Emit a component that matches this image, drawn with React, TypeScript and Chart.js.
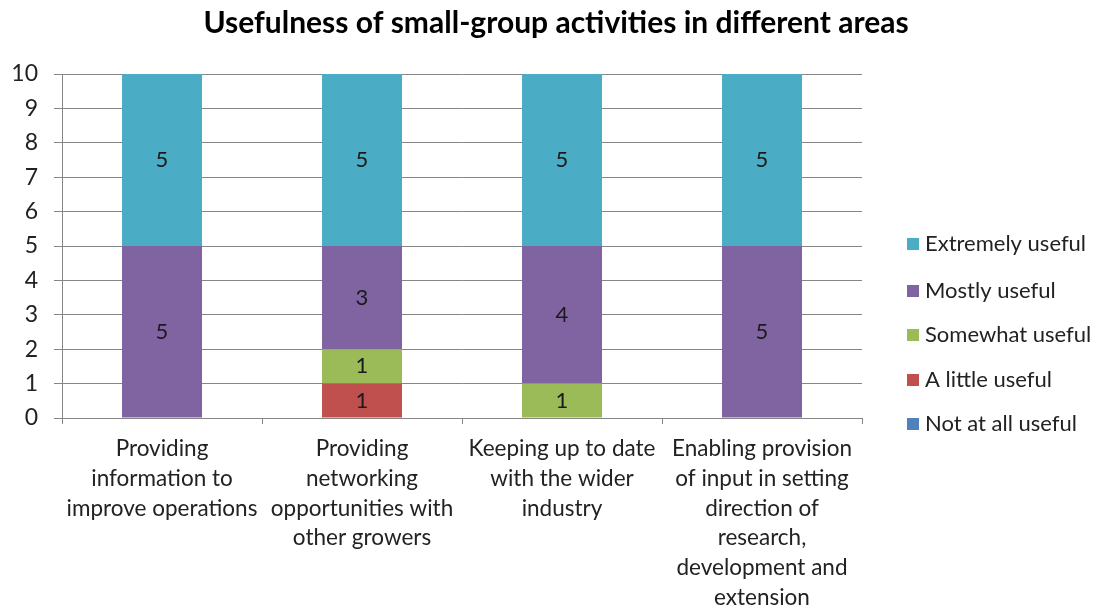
import React, { useEffect, useRef } from "react";
import { Chart, registerables } from "chart.js";
Chart.register(...registerables);

const title = "Usefulness of small-group activities in different areas";
const categories: string[][] = [
  ["Providing", "information to", "improve operations"],
  ["Providing", "networking", "opportunities with", "other growers"],
  ["Keeping up to date", "with the wider", "industry"],
  ["Enabling provision", "of input in setting", "direction of", "research,", "development and", "extension"],
];
const seriesNames = ["Not at all useful", "A little useful", "Somewhat useful", "Mostly useful", "Extremely useful"];
const notAtAll = [0, 0, 0, 0];
const aLittle = [0, 1, 0, 0];
const somewhat = [0, 1, 1, 0];
const mostly = [5, 3, 4, 5];
const extremely = [5, 5, 5, 5];
const colors = ["#4F81BD", "#C0504D", "#9BBB59", "#8064A2", "#4BACC6"];
const yTicks = [0, 1, 2, 3, 4, 5, 6, 7, 8, 9, 10];

const FONT = "Lato, 'Open Sans', sans-serif";

export default function App() {
  const ref = useRef<HTMLCanvasElement>(null);
  useEffect(() => {
    document.body.style.margin = "0";
    const values = [notAtAll, aLittle, somewhat, mostly, extremely];
    const labelsPlugin = {
      id: "customDraw",
      afterDatasetsDraw(chart: any) {
        const ctx = chart.ctx;
        ctx.save();
        // data labels
        ctx.font = `22px ${FONT}`;
        ctx.fillStyle = "#1a1a1a";
        ctx.textAlign = "center";
        ctx.textBaseline = "middle";
        chart.data.datasets.forEach((ds: any, di: number) => {
          const meta = chart.getDatasetMeta(di);
          meta.data.forEach((bar: any, i: number) => {
            const v = ds.data[i];
            if (!v) return;
            const y = (bar.y + bar.base) / 2;
            ctx.fillText(String(v), bar.x, y);
          });
        });
        // title
        ctx.font = `bold 30px ${FONT}`;
        ctx.fillStyle = "#000";
        ctx.fillText(title, 556, 23);
        // legend
        const lx = 907;
        const ys = [244, 291, 335, 380, 424];
        ctx.textAlign = "left";
        ctx.font = `22px ${FONT}`;
        for (let k = 0; k < 5; k++) {
          const si = 4 - k;
          ctx.fillStyle = colors[si];
          ctx.fillRect(lx, ys[k] - 6, 12, 12);
          ctx.fillStyle = "#222";
          ctx.fillText(seriesNames[si], lx + 18, ys[k]);
        }
        ctx.restore();
      },
    };
    const chart = new Chart(ref.current!, {
      type: "bar",
      data: {
        labels: categories as any,
        datasets: seriesNames.map((n, i) => ({
          label: n,
          data: values[i],
          backgroundColor: colors[i],
          barPercentage: 0.4,
          categoryPercentage: 1,
        })),
      },
      options: {
        animation: false,
        responsive: false,
        layout: { padding: { top: 74, right: 237, left: 0, bottom: 0 } },
        plugins: { legend: { display: false }, title: { display: false }, tooltip: { enabled: false } },
        scales: {
          x: {
            stacked: true,
            grid: { display: true, drawOnChartArea: false, offset: true, tickLength: 6, color: "#868686" },
            border: { color: "#868686" },
            ticks: { color: "#222", font: { family: FONT, size: 22.5, lineHeight: 1.32 }, maxRotation: 0, autoSkip: false, padding: 10 },
            afterFit: (s: any) => { s.height = 188; },
          },
          y: {
            stacked: true,
            min: 0,
            max: 10,
            afterBuildTicks: (s: any) => { s.ticks = yTicks.map((v) => ({ value: v })); },
            grid: { color: "#868686", tickLength: 8 },
            border: { color: "#868686" },
            ticks: { color: "#222", font: { family: FONT, size: 23 }, padding: 16 },
            afterFit: (s: any) => { s.width = 62; },
          },
        },
      },
      plugins: [labelsPlugin],
    });
    return () => chart.destroy();
  }, []);
  return <canvas ref={ref} width={1099} height={606} style={{ display: "block" }} />;
}
